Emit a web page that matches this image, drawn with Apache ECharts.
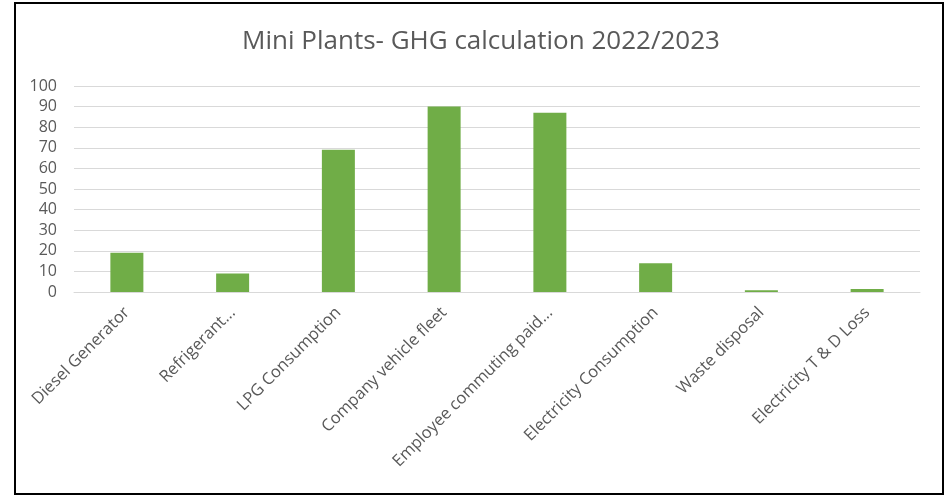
<!DOCTYPE html>
<html>
<head>
<meta charset="utf-8">
<script src="https://cdn.jsdelivr.net/npm/echarts@6/dist/echarts.min.js"></script>
<style>
  html, body { margin: 0; padding: 0; background: #fff; }
  #chart { position: absolute; left: 0; top: 0; width: 950px; height: 496px; }
  .frame { position: absolute; left: 14px; top: 2px; width: 926px; height: 489px; border: 2px solid #000; pointer-events: none; }
</style>
</head>
<body>
<div id="chart"></div>
<div class="frame"></div>
<script>
const categories = [
  'Diesel Generator',
  'Refrigerant...',
  'LPG Consumption',
  'Company vehicle fleet',
  'Employee commuting paid...',
  'Electricity Consumption',
  'Waste disposal',
  'Electricity T & D Loss'
]
const values = [19, 9, 69, 90, 87, 14, 0.8, 1.5]

const chartDom = document.getElementById('chart')
const myChart = echarts.init(chartDom)
let option = {
  animation: false,
  title: {
    text: 'Mini Plants- GHG calculation 2022/2023',
    left: 476,
    textAlign: 'center',
    top: 24,
    textStyle: {
      color: '#595959',
      fontFamily: 'Open Sans',
      fontSize: 26,
      fontWeight: 'normal'
    }
  },
  grid: {
    left: 74,
    right: 30,
    top: 86,
    bottom: 204,
    containLabel: false
  },
  xAxis: {
    type: 'category',
    data: categories,
    axisLine: { lineStyle: { color: '#d9d9d9' } },
    axisTick: { show: false },
    axisLabel: {
      interval: 0,
      rotate: 45,
      margin: 18,
      color: '#595959',
      fontFamily: 'Open Sans',
      fontSize: 16.5
    }
  },
  yAxis: {
    type: 'value',
    min: 0,
    max: 100,
    interval: 10,
    axisLine: { show: false },
    axisTick: { show: false },
    splitLine: { lineStyle: { color: '#d9d9d9' } },
    axisLabel: {
      margin: 17,
      color: '#595959',
      fontFamily: 'Open Sans',
      fontSize: 16
    }
  },
  series: [{
    type: 'bar',
    data: values,
    barWidth: 33,
    itemStyle: { color: '#70ad47' }
  }]
}
option && myChart.setOption(option)
</script>
</body>
</html>
